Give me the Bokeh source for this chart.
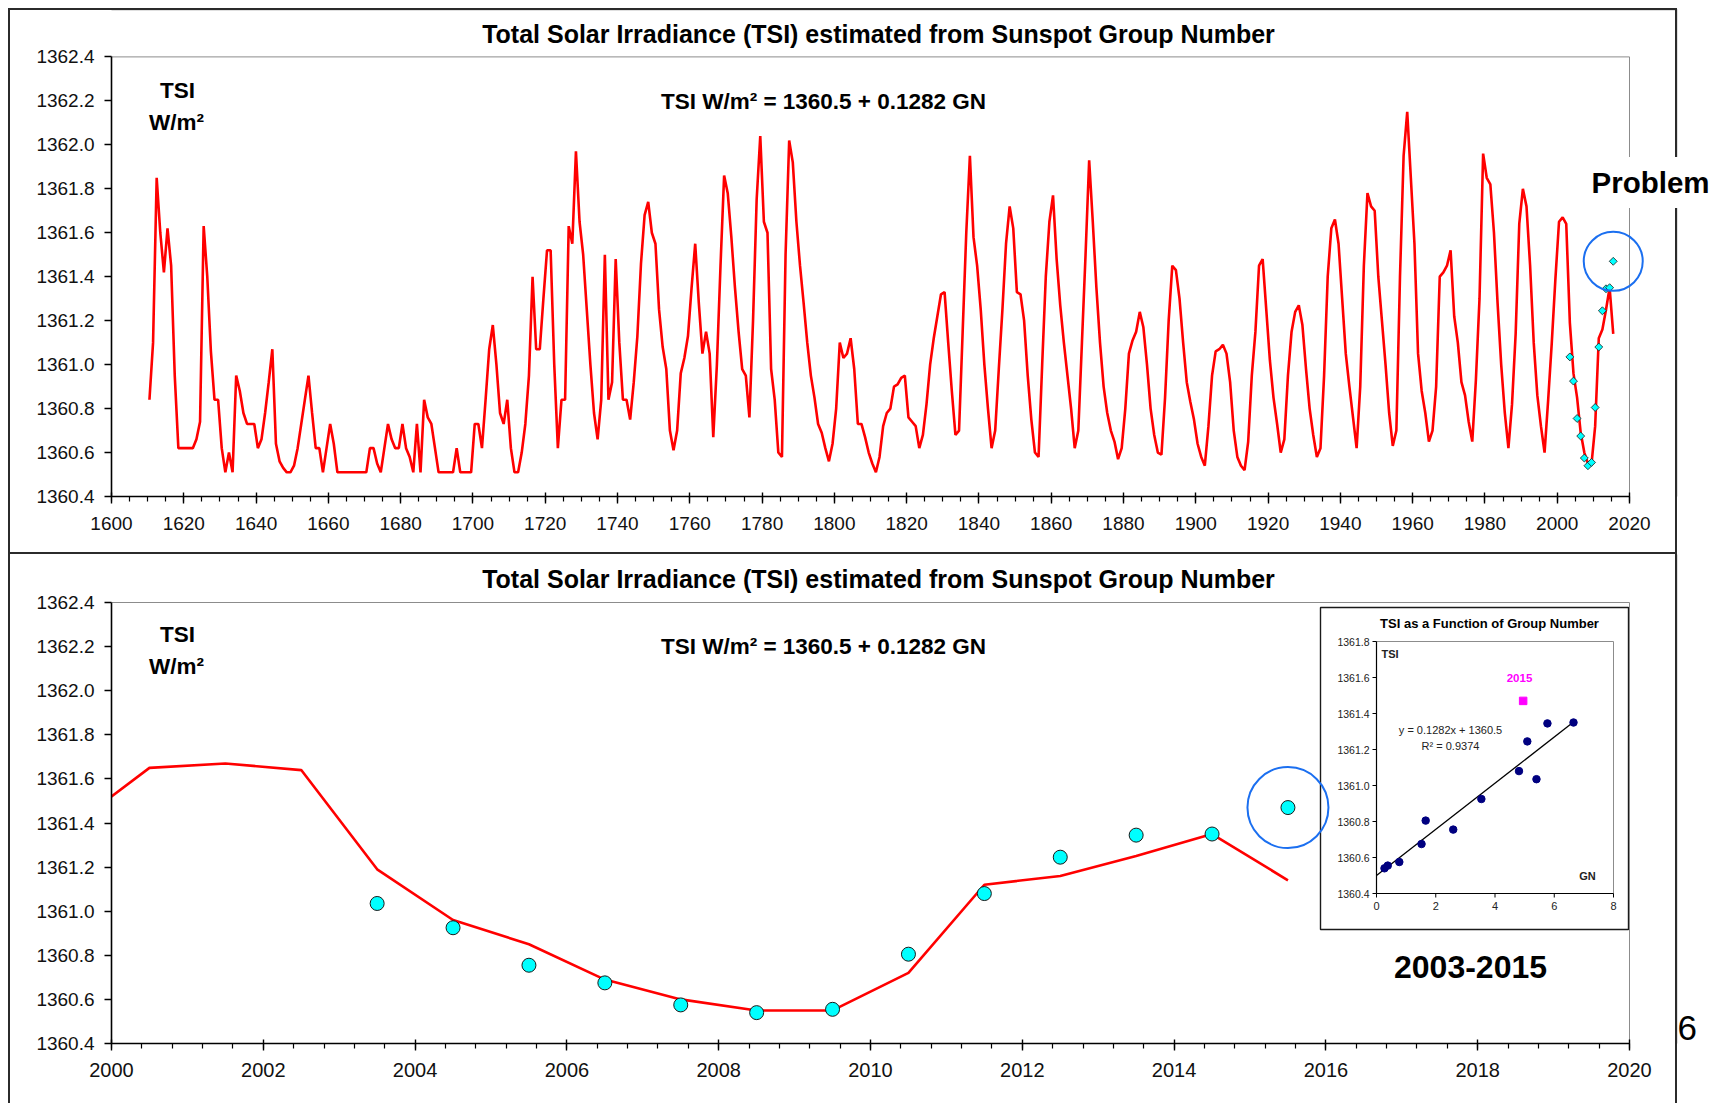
import math
from bokeh.plotting import figure
from bokeh.models import (Range1d, FixedTicker, PrintfTickFormatter, Label, BoxAnnotation)
from bokeh.layouts import column
from bokeh.embed import file_html
from bokeh.resources import INLINE
from bokeh.core.properties import value

FONT = "Liberation Sans"
RED = "#ff0000"
CYAN = "#00ffff"
BLUE = "#1b6ff0"
DARK = "#2b2b2b"

# ---------------- data: estimated TSI (W/m2) from group number, yearly ----------------
first_year = 1610
tsi_1600s = [  # 1610-1699
    1360.84, 1361.10, 1361.85, 1361.60, 1361.42, 1361.62, 1361.45, 1360.95, 1360.62, 1360.62,
    1360.62, 1360.62, 1360.62, 1360.66, 1360.74, 1361.63, 1361.40, 1361.06, 1360.84, 1360.84,
    1360.62, 1360.51, 1360.60, 1360.51, 1360.95, 1360.88, 1360.78, 1360.73, 1360.73, 1360.73,
    1360.62, 1360.66, 1360.78, 1360.92, 1361.07, 1360.64, 1360.56, 1360.53, 1360.51, 1360.51,
    1360.54, 1360.62, 1360.73, 1360.84, 1360.95, 1360.78, 1360.62, 1360.62, 1360.51, 1360.62,
    1360.73, 1360.64, 1360.51, 1360.51, 1360.51, 1360.51, 1360.51, 1360.51, 1360.51, 1360.51,
    1360.51, 1360.62, 1360.62, 1360.55, 1360.51, 1360.62, 1360.73, 1360.66, 1360.62, 1360.62,
    1360.73, 1360.62, 1360.58, 1360.51, 1360.73, 1360.51, 1360.84, 1360.76, 1360.73, 1360.62,
    1360.51, 1360.51, 1360.51, 1360.51, 1360.51, 1360.62, 1360.51, 1360.51, 1360.51, 1360.51,
]
tsi_1700s = [  # 1700-1799
    1360.73, 1360.73, 1360.62, 1360.84, 1361.07, 1361.18, 1361.00, 1360.78, 1360.73, 1360.84,
    1360.62, 1360.51, 1360.51, 1360.60, 1360.73, 1360.95, 1361.40, 1361.07, 1361.07, 1361.30,
    1361.52, 1361.52, 1361.00, 1360.62, 1360.84, 1360.84, 1361.63, 1361.55, 1361.97, 1361.65,
    1361.50, 1361.25, 1361.00, 1360.78, 1360.66, 1360.84, 1361.50, 1360.84, 1360.92, 1361.48,
    1361.10, 1360.84, 1360.84, 1360.75, 1360.92, 1361.13, 1361.46, 1361.68, 1361.74, 1361.60,
    1361.55, 1361.25, 1361.08, 1360.98, 1360.70, 1360.61, 1360.70, 1360.96, 1361.03, 1361.13,
    1361.35, 1361.55, 1361.28, 1361.05, 1361.15, 1361.05, 1360.67, 1361.00, 1361.45, 1361.86,
    1361.78, 1361.58, 1361.35, 1361.15, 1360.98, 1360.95, 1360.76, 1361.20, 1361.75, 1362.04,
    1361.65, 1361.60, 1360.98, 1360.84, 1360.60, 1360.58, 1361.50, 1362.02, 1361.92, 1361.65,
    1361.45, 1361.28, 1361.10, 1360.95, 1360.85, 1360.73, 1360.69, 1360.62, 1360.56, 1360.64,
]
tsi_1800s = [  # 1800-1899
    1360.80, 1361.10, 1361.03, 1361.05, 1361.12, 1360.98, 1360.73, 1360.73, 1360.67, 1360.60,
    1360.55, 1360.51, 1360.58, 1360.72, 1360.78, 1360.80, 1360.90, 1360.91, 1360.94, 1360.95,
    1360.76, 1360.74, 1360.72, 1360.62, 1360.68, 1360.82, 1361.00, 1361.12, 1361.22, 1361.32,
    1361.33, 1361.10, 1360.88, 1360.68, 1360.70, 1361.15, 1361.60, 1361.95, 1361.58, 1361.45,
    1361.25, 1361.00, 1360.80, 1360.62, 1360.70, 1360.98, 1361.25, 1361.55, 1361.72, 1361.62,
    1361.33, 1361.32, 1361.20, 1360.95, 1360.75, 1360.60, 1360.58, 1361.00, 1361.40, 1361.65,
    1361.77, 1361.48, 1361.27, 1361.10, 1360.95, 1360.80, 1360.62, 1360.70, 1361.10, 1361.50,
    1361.93, 1361.65, 1361.35, 1361.10, 1360.90, 1360.78, 1360.70, 1360.65, 1360.57, 1360.62,
    1360.80, 1361.05, 1361.11, 1361.15, 1361.24, 1361.17, 1361.00, 1360.80, 1360.68, 1360.60,
    1360.59, 1360.85, 1361.20, 1361.45, 1361.43, 1361.30, 1361.10, 1360.92, 1360.83, 1360.75,
]
tsi_1900s = [  # 1900-1999
    1360.64, 1360.58, 1360.54, 1360.72, 1360.95, 1361.06, 1361.07, 1361.09, 1361.05, 1360.92,
    1360.70, 1360.58, 1360.54, 1360.52, 1360.65, 1360.95, 1361.15, 1361.45, 1361.48, 1361.25,
    1361.02, 1360.85, 1360.73, 1360.60, 1360.66, 1360.95, 1361.15, 1361.24, 1361.27, 1361.18,
    1360.98, 1360.80, 1360.68, 1360.58, 1360.62, 1360.95, 1361.40, 1361.62, 1361.66, 1361.55,
    1361.30, 1361.05, 1360.90, 1360.76, 1360.62, 1360.90, 1361.45, 1361.78, 1361.72, 1361.70,
    1361.40, 1361.20, 1361.00, 1360.78, 1360.63, 1360.70, 1361.40, 1361.95, 1362.15, 1361.85,
    1361.55, 1361.05, 1360.88, 1360.78, 1360.65, 1360.70, 1360.90, 1361.40, 1361.42, 1361.45,
    1361.52, 1361.22, 1361.10, 1360.92, 1360.86, 1360.74, 1360.65, 1360.93, 1361.30, 1361.96,
    1361.85, 1361.82, 1361.60, 1361.28, 1361.00, 1360.78, 1360.62, 1360.82, 1361.14, 1361.64,
    1361.80, 1361.72, 1361.45, 1361.10, 1360.86, 1360.72, 1360.60, 1360.84, 1361.10, 1361.39,
]
tsi_2000s = [  # 2000-2015
    1361.65, 1361.67, 1361.64, 1361.19, 1360.96, 1360.85, 1360.69, 1360.60, 1360.55, 1360.55,
    1360.72, 1361.12, 1361.16, 1361.25, 1361.35, 1361.14,
]

# ---------------- data: observed TSI and group number, 2003-2015 ----------------
obs_years = [2003, 2004, 2005, 2006, 2007, 2008, 2009, 2010, 2011, 2012, 2013, 2014, 2015]
tsi_obs = [1361.035, 1360.925, 1360.755, 1360.675, 1360.575, 1360.540, 1360.555,
           1360.805, 1361.080, 1361.245, 1361.345, 1361.350, 1361.470]
gn_obs = [5.40, 3.54, 2.59, 1.52, 0.77, 0.27, 0.38, 1.66, 4.81, 5.09, 5.77, 6.65, 4.95]
fit_slope, fit_intercept = 0.1282, 1360.5

y_ticks = [1360.4, 1360.6, 1360.8, 1361.0, 1361.2, 1361.4, 1361.6, 1361.8, 1362.0, 1362.2, 1362.4]
top_x_ticks = list(range(1600, 2021, 20))
top_x_minor = list(range(1600, 2021, 5))
bot_x_ticks = list(range(2000, 2021, 2))
bot_x_minor = [2000 + 0.4 * i for i in range(51)]
inset_y_ticks = [1360.4, 1360.6, 1360.8, 1361.0, 1361.2, 1361.4, 1361.6, 1361.8]
inset_x_ticks = [0, 2, 4, 6, 8]

tsi_est = tsi_1600s + tsi_1700s + tsi_1800s + tsi_1900s + tsi_2000s
est_x = [first_year + i + 0.5 for i in range(len(tsi_est))]   # mid-year positions
obs_x = [y + 0.5 for y in obs_years]

# ---------------- layout (pixels) ----------------
W = 1719
H1, H2 = 554, 549          # top panel canvas, lower panel canvas (starts at page y=554)
AX_L = 111                 # y-axis position
AX_R = 1629                # where the last x tick sits
T_TOP, T_BOT = 56.4, 496   # top chart: 1362.4 / 1360.4 rows
B_TOP, B_BOT = 602 - H1, 1043 - H1  # lower chart rows, in its own canvas


def panel_css(h, top_edge):
    g = "linear-gradient(%s,%s)" % (DARK, DARK)
    layers = ["%s 8px %dpx / 2px %dpx no-repeat" % (g, top_edge, h - top_edge),
              "%s 1675px %dpx / 2px %dpx no-repeat" % (g, top_edge, h - top_edge)]
    if top_edge > 0:
        layers.append("%s 8px 8px / 1669px 2px no-repeat" % g)
        layers.append("%s 8px %dpx / 1669px 2px no-repeat" % (g, h - 2))
    return {"background": ", ".join(layers)}


def make_fig(h, x0, x1, row_top, row_bot, css):
    kx = (AX_R - AX_L) / (x1 - x0)
    ky = (row_bot - row_top) / (y_ticks[-1] - y_ticks[0])
    xr = Range1d(x0, x0 + (W - AX_L) / kx)
    yr = Range1d(y_ticks[0], y_ticks[0] + row_bot / ky)
    p = figure(width=W, height=h, x_range=xr, y_range=yr,
               output_backend="svg", toolbar_location=None, title=None,
               min_border_left=AX_L, min_border_right=0,
               min_border_top=0, min_border_bottom=h - row_bot, styles=css)
    p.background_fill_alpha = 0
    p.border_fill_alpha = 0
    p.outline_line_color = None
    p.xgrid.visible = False
    p.ygrid.visible = False
    p.yaxis.ticker = FixedTicker(ticks=y_ticks, minor_ticks=[])
    p.yaxis.formatter = PrintfTickFormatter(format="%.1f")
    p.yaxis.bounds = (y_ticks[0], y_ticks[-1])
    p.xaxis.bounds = (x0, x1)
    for ax in p.axis:
        ax.axis_line_color = "black"
        ax.axis_line_width = 1.6
        ax.major_tick_line_color = "black"
        ax.major_tick_line_width = 1.4
        ax.minor_tick_line_color = "black"
        ax.minor_tick_line_width = 1.2
        ax.major_label_text_font = FONT
        ax.major_label_text_font_size = "19px"
        ax.major_label_text_color = "#111111"
    p.yaxis.major_tick_in = 0
    p.yaxis.major_tick_out = 7
    p.yaxis.minor_tick_out = 0
    p.yaxis.major_label_standoff = 10
    p.xaxis.major_tick_in = 4
    p.xaxis.major_tick_out = 7
    p.xaxis.minor_tick_in = 0
    p.xaxis.minor_tick_out = 5
    p.xaxis.major_label_standoff = 13
    # grey plot-area border (top and right)
    p.segment(x0=[x0, x1], y0=[y_ticks[-1], y_ticks[0]], x1=[x1, x1], y1=[y_ticks[-1], y_ticks[-1]],
              line_color="#8c8c8c", line_width=1)
    return p, kx, ky


def label(p, x, y, text, size, bold=True, align="center", color="black", **kw):
    p.add_layout(Label(x=x, y=y, x_units="canvas", y_units="canvas", text=text,
                       text_font=FONT, text_font_size=size,
                       text_font_style="bold" if bold else "normal",
                       text_color=color, text_align=align, text_baseline="middle", **kw))


# ======================= TOP PANEL =======================
p1, kx1, ky1 = make_fig(H1, top_x_ticks[0], top_x_ticks[-1], T_TOP, T_BOT, panel_css(H1, 8))
p1.xaxis.ticker = FixedTicker(ticks=top_x_ticks, minor_ticks=top_x_minor)

p1.add_layout(BoxAnnotation(left=9, right=1676, top=9, bottom=553,
                            left_units="canvas", right_units="canvas",
                            top_units="canvas", bottom_units="canvas",
                            fill_color=None, line_color=DARK, line_width=2))

p1.line(est_x, tsi_est, line_color=RED, line_width=2.6)
p1.scatter(obs_x, tsi_obs, marker="square", angle=math.pi / 4, size=5.6,
           fill_color=CYAN, line_color="#1a1a1a", line_width=0.8)
p1.scatter([obs_x[-1]], [tsi_obs[-1]], marker="circle", size=59,
           fill_color=None, line_color=BLUE, line_width=2)

label(p1, 878, 33, "Total Solar Irradiance (TSI) estimated from Sunspot Group Number", "25px")
label(p1, 177, 90, "TSI", "22.5px")
label(p1, 176, 122, "W/m\u00b2", "22.5px")
label(p1, 823, 101, "TSI W/m\u00b2 = 1360.5 + 0.1282 GN", "22.5px")
label(p1, 1582, 182, "Problem", "29.5px", align="left",
      background_fill_color="white", padding=9)

# ======================= LOWER PANEL =======================
p2, kx2, ky2 = make_fig(H2, bot_x_ticks[0], bot_x_ticks[-1], B_TOP, B_BOT, panel_css(H2, 0))
p2.xaxis.ticker = FixedTicker(ticks=bot_x_ticks, minor_ticks=bot_x_minor)
p2.xaxis.major_label_text_font_size = "20px"
p2.xaxis.major_label_standoff = 12

p2.add_layout(BoxAnnotation(left=9, right=1676, top=-6, bottom=H2 + 20,
                            left_units="canvas", right_units="canvas",
                            top_units="canvas", bottom_units="canvas",
                            fill_color=None, line_color=DARK, line_width=2))

# ---- inset (own scales mapped into the lower frame, canvas pixels) ----
I_L, I_R, I_T, I_B = 1376, 1613, 641 - H1, 893 - H1
gn_lo, gn_hi = inset_x_ticks[0], inset_x_ticks[-1]
ti_lo, ti_hi = inset_y_ticks[0], inset_y_ticks[-1]
kx = (I_R - I_L) / (gn_hi - gn_lo)
ky = (I_B - I_T) / (ti_hi - ti_lo)
p2.extra_x_ranges = {"gn": Range1d(gn_lo - (I_L - AX_L) / kx, gn_hi + (W - I_R) / kx)}
p2.extra_y_ranges = {"ti": Range1d(ti_lo - (B_BOT - I_B) / ky, ti_hi + I_T / ky)}
R = dict(x_range_name="gn", y_range_name="ti")


def gx(px):
    return gn_lo + (px - I_L) / kx


def gy(py):
    return ti_hi - (py - H1 - I_T) / ky


box = p2.quad(left=[gx(1320)], right=[gx(1628)], top=[gy(607)], bottom=[gy(929)],
              fill_color="white", line_color="#1a1a1a", line_width=1.4, **R)
box.level = "underlay"
p2.segment(x0=[gn_lo, gn_hi], y0=[ti_hi, ti_lo], x1=[gn_hi, gn_hi], y1=[ti_hi, ti_hi],
           line_color="#8c8c8c", line_width=1, **R)
p2.segment(x0=[gn_lo, gn_lo], y0=[ti_lo, ti_lo], x1=[gn_lo, gn_hi], y1=[ti_hi, ti_lo],
           line_color="black", line_width=1.2, **R)
p2.segment(x0=[gn_lo] * len(inset_y_ticks), y0=inset_y_ticks,
           x1=[gn_lo - 4 / kx] * len(inset_y_ticks), y1=inset_y_ticks,
           line_color="black", line_width=1, **R)
p2.segment(x0=inset_x_ticks, y0=[ti_lo] * len(inset_x_ticks),
           x1=inset_x_ticks, y1=[ti_lo - 4 / ky] * len(inset_x_ticks),
           line_color="black", line_width=1, **R)
p2.text(x=[gn_lo - 7 / kx] * len(inset_y_ticks), y=inset_y_ticks,
        text=["%.1f" % v for v in inset_y_ticks], text_align="right", text_baseline="middle",
        text_font=value(FONT), text_font_size="10.5px", text_color="#222222", **R)
p2.text(x=inset_x_ticks, y=[ti_lo - 8 / ky] * len(inset_x_ticks),
        text=[str(v) for v in inset_x_ticks], text_align="center", text_baseline="top",
        text_font=value(FONT), text_font_size="11px", text_color="#222222", **R)

gmax = max(gn_obs[:-1])
p2.line([0, gmax], [fit_intercept, fit_intercept + fit_slope * gmax],
        line_color="black", line_width=1.3, **R)
p2.scatter(gn_obs[:-1], tsi_obs[:-1], marker="circle", size=7.5,
           fill_color="#000080", line_color="#000080", **R)
p2.scatter([gn_obs[-1]], [tsi_obs[-1]], marker="square", size=7.5,
           fill_color="#ff00ff", line_color="#ff00ff", **R)

p2.text(x=[gx(1489)], y=[gy(623)], text=["TSI as a Function of Group Number"],
        text_align="center", text_baseline="middle", text_font=value(FONT),
        text_font_size="13px", text_font_style="bold", text_color="black", **R)
p2.text(x=[gx(1381)], y=[gy(653)], text=["TSI"], text_align="left", text_baseline="middle",
        text_font=value(FONT), text_font_size="11px", text_font_style="bold",
        text_color="#222222", **R)
p2.text(x=[gx(1519)], y=[gy(677)], text=["2015"], text_align="center", text_baseline="middle",
        text_font=value(FONT), text_font_size="11.5px", text_font_style="bold",
        text_color="#ff00ff", **R)
p2.text(x=[gx(1450), gx(1450)], y=[gy(729), gy(745)],
        text=["y = 0.1282x + 1360.5", "R\u00b2 = 0.9374"], text_align="center",
        text_baseline="middle", text_font=value(FONT), text_font_size="11px",
        text_color="#222222", **R)
p2.text(x=[gx(1587)], y=[gy(875)], text=["GN"], text_align="center", text_baseline="middle",
        text_font=value(FONT), text_font_size="11px", text_font_style="bold",
        text_color="#222222", **R)

# ---- main series ----
p2.line(est_x, tsi_est, line_color=RED, line_width=2.6)
p2.scatter(obs_x, tsi_obs, marker="circle", size=14,
           fill_color=CYAN, line_color="#1a1a1a", line_width=1)
p2.scatter([obs_x[-1]], [tsi_obs[-1]], marker="circle", size=81,
           fill_color=None, line_color=BLUE, line_width=2)

label(p2, 878, 578 - H1, "Total Solar Irradiance (TSI) estimated from Sunspot Group Number", "25px")
label(p2, 177, 634 - H1, "TSI", "22.5px")
label(p2, 176, 666 - H1, "W/m\u00b2", "22.5px")
label(p2, 823, 646 - H1, "TSI W/m\u00b2 = 1360.5 + 0.1282 GN", "22.5px")
label(p2, 1470, 966 - H1, "2003-2015", "32px")
label(p2, 1677, 1027 - H1, "6", "35px", bold=False, align="left")

layout = column(p1, p2, spacing=0)
open("out.html", "w").write(file_html(layout, INLINE))
